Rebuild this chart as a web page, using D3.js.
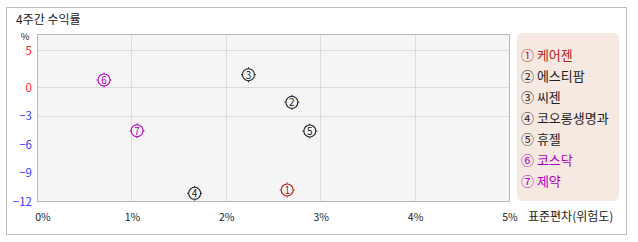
<!DOCTYPE html>
<html>
<head>
<meta charset="utf-8">
<script src="https://cdn.jsdelivr.net/npm/d3@7"></script>
<style>
  body { margin: 0; background: #fff; }
  svg { display: block; font-family: 'Noto Sans CJK KR', 'Noto Sans', sans-serif; }
</style>
</head>
<body>
<div id="chart"></div>
<script>
// data
const names = ['케어젠', '에스티팜', '씨젠', '코오롱생명과', '휴젤', '코스닥', '제약'];
const marks = ['①', '②', '③', '④', '⑤', '⑥', '⑦'];
const risk = [2.65, 2.70, 2.24, 1.67, 2.89, 0.71, 1.06]; // 표준편차 %
const ret = [-10.84, -1.61, 1.66, -11.19, -4.63, 0.95, -4.6]; // 4주간 수익률 %
const groups = ['stock', 'stock', 'stock', 'stock', 'stock', 'index', 'index'];
const xTicks = [0, 1, 2, 3, 4, 5];
const yTicks = [5, 0, -3, -6, -9, -12];
const yGrid = [5, 0, -3];

// dimensions
const W = 638;
const H = 242;
const plot = { left: 37, top: 34, right: 509, bottom: 201 };
const COLORS = { first: '#b81c1c', stock: '#222', index: '#b000c0' };
const colorOf = (i) => (i === 0 ? COLORS.first : COLORS[groups[i]]);

const $svg = d3.select('#chart').append('svg').attr('width', W).attr('height', H);

// outer frame
$svg.append('rect')
  .attr('x', 6.5).attr('y', 7.5).attr('width', 620).attr('height', 227)
  .attr('fill', '#fff').attr('stroke', '#bdbdbd');

$svg.append('text')
  .attr('x', 16).attr('y', 24)
  .attr('font-size', 12).attr('fill', '#222')
  .text('4주간 수익률');

// scales (y axis of the original is not uniform above zero)
const scaleX = d3.scaleLinear().domain([0, 5]).range([plot.left, plot.right]);
const scaleY = d3.scaleLinear().domain([-12, 0, 5, 7.16]).range([plot.bottom, 87, 50, plot.top]);

// plot background
$svg.append('rect')
  .attr('x', plot.left).attr('y', plot.top)
  .attr('width', plot.right - plot.left).attr('height', plot.bottom - plot.top)
  .attr('fill', '#f5f5f5');

const $grid = $svg.append('g').attr('stroke', '#dcdcdc').attr('shape-rendering', 'crispEdges');
$grid.selectAll('.gx').data(xTicks.slice(1, -1)).join('line')
  .attr('x1', (d) => Math.round(scaleX(d)) + 0.5).attr('x2', (d) => Math.round(scaleX(d)) + 0.5)
  .attr('y1', plot.top).attr('y2', plot.bottom);
$grid.selectAll('.gy').data(yGrid).join('line')
  .attr('x1', plot.left).attr('x2', plot.right)
  .attr('y1', (d) => Math.round(scaleY(d)) + 0.5).attr('y2', (d) => Math.round(scaleY(d)) + 0.5);

// plot border
$svg.append('rect')
  .attr('x', plot.left + 0.5).attr('y', plot.top + 0.5)
  .attr('width', plot.right - plot.left).attr('height', plot.bottom - plot.top)
  .attr('fill', 'none').attr('stroke', '#b8b8b8');

// y axis labels
$svg.append('text')
  .attr('x', 25).attr('y', 40).attr('text-anchor', 'middle')
  .attr('font-size', 9.5).attr('fill', '#222').text('%');
$svg.selectAll('.ty').data(yTicks).join('text')
  .attr('x', 32).attr('y', (d) => scaleY(d) + 4.5)
  .attr('text-anchor', 'end').attr('font-size', 11.5)
  .attr('fill', (d) => (d >= 0 ? '#ff1a1a' : '#3a3aff'))
  .text((d) => (d < 0 ? `\u2212${-d}` : d));

// x axis labels
$svg.selectAll('.tx').data(xTicks).join('text')
  .attr('x', (d) => (d === 0 ? scaleX(d) + 6 : scaleX(d) + 1))
  .attr('y', 221).attr('text-anchor', 'middle')
  .attr('font-size', 10.5).attr('fill', '#222')
  .text((d) => `${d}%`);
$svg.append('text')
  .attr('x', 528).attr('y', 221).attr('font-size', 12).attr('fill', '#222')
  .text('표준편차(위험도)');

// points
const $pt = $svg.append('g').selectAll('g').data(names).join('g')
  .attr('transform', (d, i) => `translate(${scaleX(risk[i])},${scaleY(ret[i])})`)
  .attr('stroke', (d, i) => colorOf(i)).attr('fill', 'none');
$pt.append('circle').attr('r', 6).attr('stroke-width', 1.1);
$pt.selectAll('line').data([[0, -6, 0, -7.5], [0, 6, 0, 7.5], [-6, 0, -7.5, 0], [6, 0, 7.5, 0]]).join('line')
  .attr('x1', (d) => d[0]).attr('y1', (d) => d[1]).attr('x2', (d) => d[2]).attr('y2', (d) => d[3]);
$pt.append('text')
  .attr('y', 4).attr('text-anchor', 'middle').attr('font-size', 10)
  .attr('stroke', 'none').attr('fill', (d, i) => colorOf(i))
  .text((d, i) => i + 1);

// legend
$svg.append('rect')
  .attr('x', 517).attr('y', 33).attr('width', 102).attr('height', 168)
  .attr('rx', 5).attr('fill', '#f6e9e2');
$svg.selectAll('.lg').data(names).join('text')
  .attr('x', 521).attr('y', (d, i) => 60 + i * 21)
  .attr('font-size', 13).attr('fill', (d, i) => colorOf(i))
  .text((d, i) => `${marks[i]} ${d}`);
</script>
</body>
</html>
